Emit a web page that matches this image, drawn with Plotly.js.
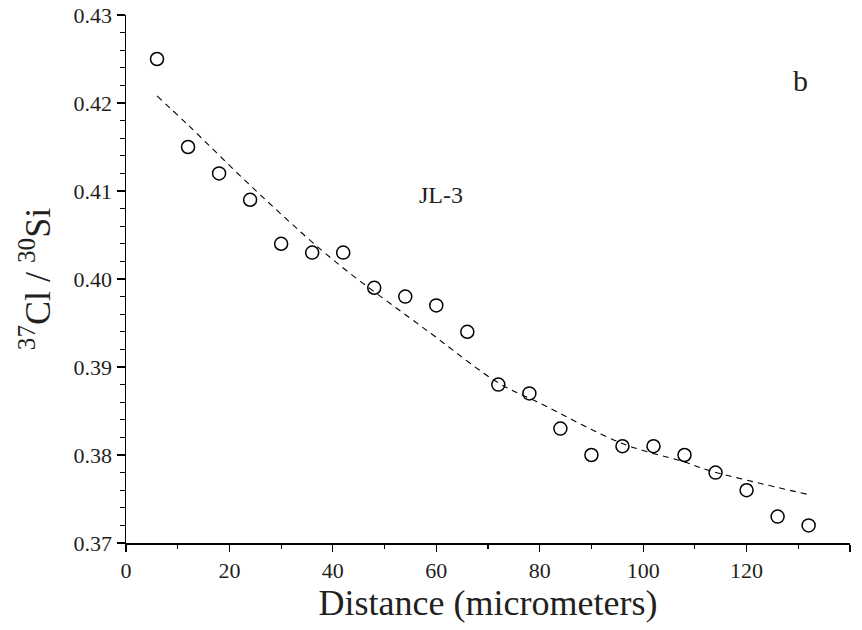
<!DOCTYPE html>
<html>
<head>
<meta charset="utf-8">
<script src="https://cdn.plot.ly/plotly-3.0.1.min.js"></script>
<style>html,body{margin:0;padding:0;background:#fff;}#chart{width:862px;height:630px;}</style>
</head>
<body>
<div id="chart"></div>
<script>
// Measured data: distance (micrometers) and 37Cl/30Si ratio
const distance = [6, 12, 18, 24, 30, 36, 42, 48, 54, 60, 66, 72, 78, 84, 90, 96, 102, 108, 114, 120, 126, 132];
const ratio = [0.425, 0.415, 0.412, 0.409, 0.404, 0.403, 0.403, 0.399, 0.398, 0.397, 0.394, 0.388, 0.387, 0.383, 0.380, 0.381, 0.381, 0.380, 0.378, 0.376, 0.373, 0.372];

// Fitted curve (dashed)
const fitX = [6, 12, 25, 40, 59, 72, 80, 96, 108, 113, 132];
const fitY = [0.4208, 0.4175, 0.4101, 0.4022, 0.3938, 0.3882, 0.3859, 0.3813, 0.3792, 0.3782, 0.3755];

const xTicks = [0, 20, 40, 60, 80, 100, 120, 140];
const yTicks = [0.37, 0.38, 0.39, 0.40, 0.41, 0.42, 0.43];
const yTickText = ["0.37", "0.38", "0.39", "0.40", "0.41", "0.42", "0.43"];

const FONT = "'Times New Roman', 'Liberation Serif', Times, serif";

const traces = [
  {
    x: fitX, y: fitY, type: "scatter", mode: "lines",
    line: {color: "#000", width: 1.1, dash: "6px,5px", shape: "spline", smoothing: 1},
    hoverinfo: "skip", showlegend: false
  },
  {
    x: distance, y: ratio, type: "scatter", mode: "markers",
    marker: {symbol: "circle-open", size: 13, color: "#000", line: {color: "#000", width: 1.5}},
    showlegend: false
  }
];

const layout = {
  width: 862, height: 630,
  margin: {l: 126, r: 12, t: 15, b: 87},
  paper_bgcolor: "#fff", plot_bgcolor: "#fff",
  font: {family: FONT, color: "#231f20"},
  showlegend: false,
  xaxis: {
    range: [0, 140], tickvals: xTicks, ticktext: xTicks.map(String),
    showgrid: false, zeroline: false, showline: true, linecolor: "#000", linewidth: 1.5,
    ticks: "outside", ticklen: 7, tickwidth: 1.2, tickcolor: "#000",
    minor: {dtick: 10, ticks: "outside", ticklen: 4, tickwidth: 1.2, tickcolor: "#000", showgrid: false},
    tickfont: {family: FONT, size: 22, color: "#231f20"},
    title: {text: "Distance (micrometers)", font: {family: FONT, size: 36, color: "#231f20"}, standoff: 4}
  },
  yaxis: {
    range: [0.37, 0.43], tickvals: yTicks, ticktext: yTickText,
    showgrid: false, zeroline: false, showline: true, linecolor: "#000", linewidth: 1.5,
    ticks: "outside", ticklen: 8, tickwidth: 1.2, tickcolor: "#000",
    minor: {dtick: 0.002, ticks: "outside", ticklen: 5, tickwidth: 1.2, tickcolor: "#000", showgrid: false},
    tickfont: {family: FONT, size: 22, color: "#231f20"},
    title: {text: "<sup>37</sup>Cl / <sup>30</sup>Si", font: {family: FONT, size: 36, color: "#231f20"}, standoff: 12}
  },
  annotations: [
    {text: "JL-3", xref: "paper", yref: "paper", x: (441 - 126) / 724, y: (543 - 180) / 528,
     showarrow: false, font: {family: FONT, size: 24, color: "#231f20"}},
    {text: "b", xref: "paper", yref: "paper", x: (810 - 126) / 724, y: (543 - 62) / 528,
     showarrow: false, font: {family: FONT, size: 30, color: "#231f20"}}
  ]
};

Plotly.newPlot("chart", traces, layout, {displayModeBar: false, staticPlot: true});
</script>
</body>
</html>
